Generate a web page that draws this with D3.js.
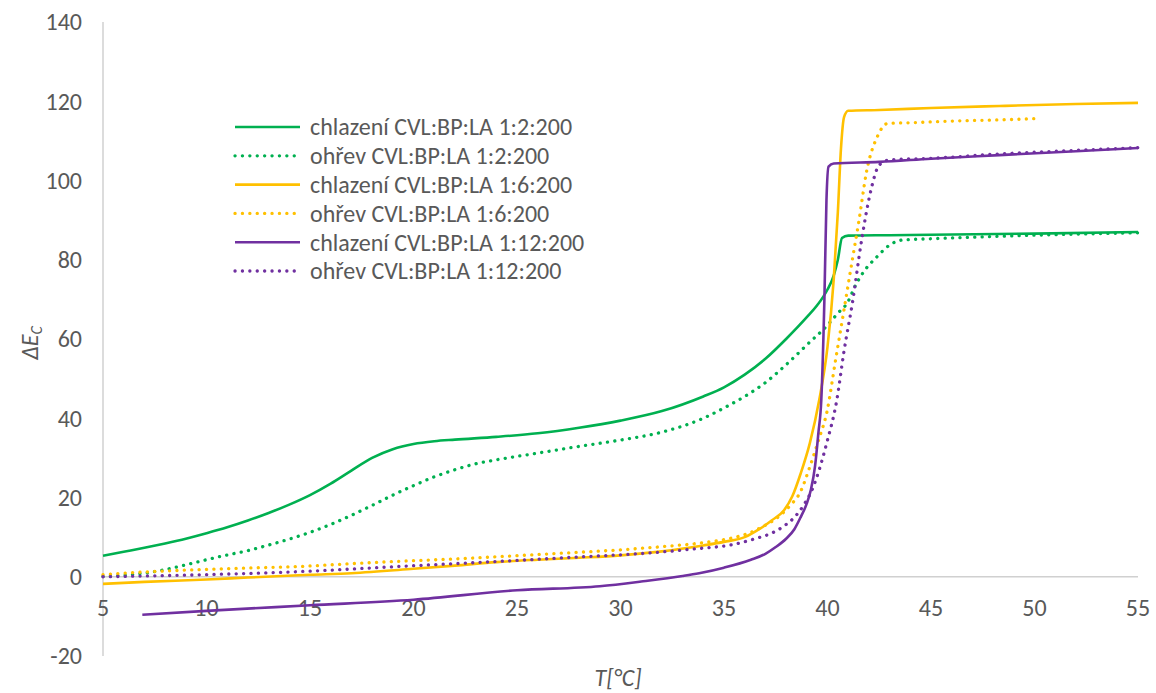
<!DOCTYPE html>
<html lang="cs">
<head>
<meta charset="utf-8">
<title>Delta E_C vs T</title>
<script src="https://cdn.jsdelivr.net/npm/d3@7"></script>
<style>
  body { margin: 0; background: #fff; }
  text { font-family: Carlito, Calibri, "Liberation Sans", sans-serif; fill: #595959; }
  .line { fill: none; stroke-linejoin: round; }
</style>
</head>
<body>
<script>
// x ticks and y ticks
var xTicks = [5, 10, 15, 20, 25, 30, 35, 40, 45, 50, 55];
var yTicks = [-20, 0, 20, 40, 60, 80, 100, 120, 140];

// chlazeni 1:2:200
var g1T = [5,6,7,8,9,10,11,12,13,14,15,16,17,18,19,20,21,22,24,26,28,30,32,34,35,36,37,38,39,39.5,40,40.3,40.5,40.7,41,43,45,50,55];
var g1E = [5.3,6.3,7.3,8.4,9.6,11.0,12.5,14.2,16.1,18.2,20.6,23.5,26.8,30.0,32.2,33.5,34.2,34.6,35.3,36.2,37.6,39.4,41.8,45.5,47.8,51,55,60,65.5,68.5,72.5,76,80,85.5,86.1,86.2,86.3,86.6,87.0];
// ohrev 1:2:200
var g2T = [5,6,7,8,9,10,11,12,13,14,15,16,17,18,19,20,21,22,23,24,26,28,30,32,34,35,36,37,38,39,40,40.5,41,41.3,41.7,42.4,43,43.65,45,50,55];
var g2E = [0.1,0.4,0.9,1.8,3.0,4.3,5.5,6.6,8.0,9.5,11.2,13.2,15.5,18.0,20.6,23.0,25.2,27.0,28.5,29.5,31.2,32.9,34.5,36.5,40.0,42.6,45.5,49,53.5,58.5,63.5,66.5,69.5,73,76.6,80.8,83.7,85,85.3,86.2,86.8];
// chlazeni 1:6:200
var y1T = [5,7,10,12,15,17,20,22,24,26,28,30,32,34,35,36,36.7,37.3,37.9,38.3,38.7,39.15,39.6,40,40.3,40.5,40.65,40.8,41,42.5,45,48.3,52,55];
var y1E = [-1.8,-1.3,-0.7,-0.2,0.5,0.9,2.0,2.8,3.7,4.3,4.8,5.4,6.4,7.9,8.8,10.0,12.0,14.2,16.8,20.3,26,33.8,44.6,58,75,92,108,116,117.6,117.8,118.3,118.8,119.3,119.6];
// ohrev 1:6:200
var y2T = [5,7,9.7,12,14.5,17,19.3,22,24.2,27,30,32,34,35.4,36.2,37,37.6,38.2,38.7,39.15,39.6,39.96,40.4,40.85,41.2,41.5,41.9,42.4,42.9,44.1,46,48.3,50];
var y2E = [0.5,1.2,1.8,2.2,2.6,3.3,3.9,4.5,5.1,5.9,6.8,7.6,8.6,9.8,11,13,15,18,21.5,27.8,35,41.3,55,69,80,89.2,102.6,111,114.4,114.6,115,115.3,115.6];
// chlazeni 1:12:200
var p1T = [6.9,10,15,20,25,29,31,33,33.8,35,36.3,37,37.5,38,38.4,38.7,39,39.2,39.4,39.56,39.7,39.85,39.95,40.05,40.3,42.5,45,48.3,52,55];
var p1E = [-9.6,-8.6,-7.2,-5.8,-3.4,-2.4,-1.2,0.2,0.9,2.3,4.3,5.8,7.5,9.6,12,15,18.5,22,28,36.3,44.6,70,95,103.5,104.3,104.7,105.5,106.4,107.4,108.2];
// ohrev 1:12:200
var p2T = [5,9.7,14.5,19.3,24.2,28,31.4,33.5,35.4,36.5,37.3,37.9,38.4,38.9,39.3,39.6,39.96,40.45,40.8,41.2,41.65,42.1,42.5,43,45,48.3,52,55];
var p2E = [0,0.5,1.3,2.6,3.9,5.0,6.0,7.0,8.1,9.6,11,12.8,15,18.5,22.5,27,33.7,44.6,57,69,85,97.6,103.9,105.2,105.6,106.7,107.6,108.3];

var seriesNames = ["chlazení CVL:BP:LA 1:2:200", "ohřev CVL:BP:LA 1:2:200",
                   "chlazení CVL:BP:LA 1:6:200", "ohřev CVL:BP:LA 1:6:200",
                   "chlazení CVL:BP:LA 1:12:200", "ohřev CVL:BP:LA 1:12:200"];
var seriesColors = ["#00B050", "#00B050", "#FFC000", "#FFC000", "#7030A0", "#7030A0"];
var seriesDotted = [false, true, false, true, false, true];
var seriesT = [g1T, g2T, y1T, y2T, p1T, p2T];
var seriesE = [g1E, g2E, y1E, y2E, p1E, p2E];

var W = 1156, H = 693;
var svg = d3.select("body").append("svg").attr("width", W).attr("height", H);

var x = d3.scaleLinear().domain([5, 55]).range([103, 1138]);
var y = d3.scaleLinear().domain([-20, 140]).range([656, 22]);

// axis lines
svg.append("line").attr("x1", x(5)).attr("x2", x(5)).attr("y1", y(140)).attr("y2", y(-20))
   .attr("stroke", "#D0D0D0").attr("stroke-width", 1.5);
svg.append("line").attr("x1", x(5)).attr("x2", x(55)).attr("y1", y(0)).attr("y2", y(0))
   .attr("stroke", "#D0D0D0").attr("stroke-width", 1.5);

// tick labels
svg.selectAll(".ytick").data(yTicks).enter().append("text")
   .attr("class", "ytick")
   .attr("x", 82).attr("y", d => y(d)).attr("dy", "0.35em")
   .attr("text-anchor", "end").style("font-size", "24px")
   .text(d => d);
svg.selectAll(".xtick").data(xTicks).enter().append("text")
   .attr("class", "xtick")
   .attr("x", d => x(d)).attr("y", y(0) + 31).attr("dy", "0.35em")
   .attr("text-anchor", "middle").style("font-size", "24px")
   .text(d => d);

// axis titles
svg.append("text").attr("x", 618).attr("y", 686)
   .attr("text-anchor", "middle").style("font-size", "24px").style("font-style", "italic")
   .text("T[°C]");
var yt = svg.append("text")
   .attr("transform", "translate(38,343) rotate(-90)")
   .attr("text-anchor", "middle").style("font-size", "24px").style("font-style", "italic");
yt.append("tspan").text("ΔE");
yt.append("tspan").attr("dy", 4).style("font-size", "16px").text("C");

// lines
var lineGen = d3.line().curve(d3.curveMonotoneX)
   .x(d => x(d[0])).y(d => y(d[1]));

var lineData = seriesNames.map(function(n, i) {
  return { name: n, color: seriesColors[i], dotted: seriesDotted[i],
           pts: seriesT[i].map((t, j) => [t, seriesE[i][j]]) };
});

function styleLine(sel) {
  sel.attr("stroke", d => d.color)
     .attr("stroke-width", d => d.dotted ? 3.3 : 2.6)
     .attr("stroke-linecap", d => d.dotted ? "round" : "butt")
     .attr("stroke-dasharray", d => d.dotted ? "0.1,7.3" : null);
}

svg.selectAll(".line").data(lineData).enter().append("path")
   .attr("class", "line")
   .attr("d", d => lineGen(d.pts))
   .call(styleLine);

// legend
var legend = svg.selectAll(".legend").data(lineData).enter().append("g")
   .attr("class", "legend")
   .attr("transform", (d, i) => "translate(235," + (127 + i * 28.8) + ")");
legend.append("line").attr("x1", 0).attr("x2", 65).attr("y1", 0).attr("y2", 0)
   .call(styleLine);
legend.append("text").attr("x", 75).attr("dy", "0.35em").style("font-size", "24px")
   .text(d => d.name);
</script>
</body>
</html>
